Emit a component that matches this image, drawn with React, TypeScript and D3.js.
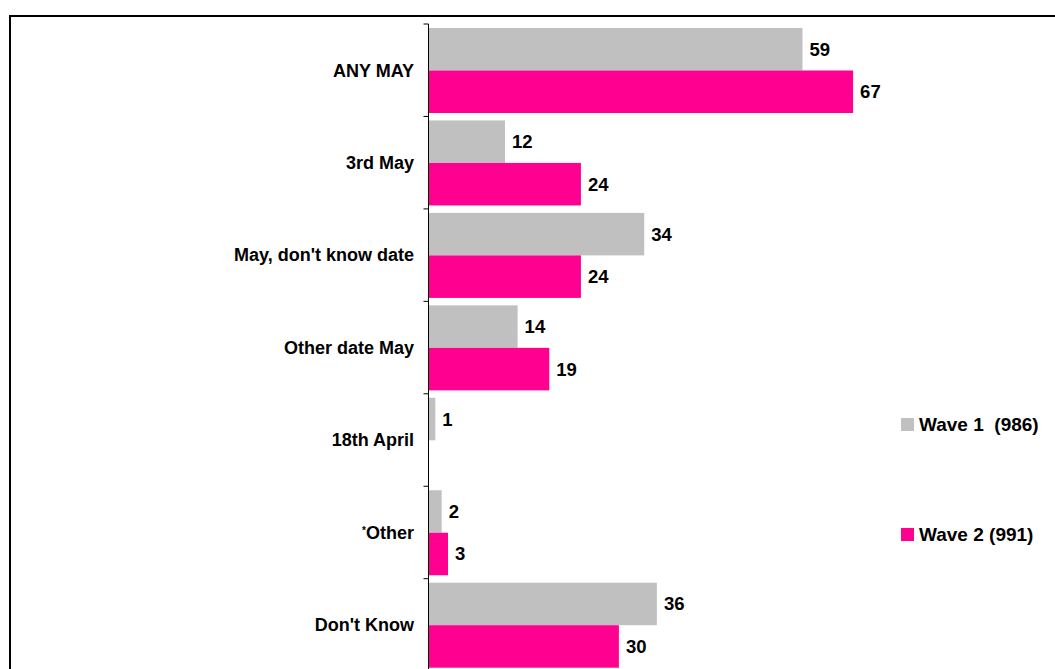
import React from "react";
import * as d3 from "d3";

const categories = ["ANY MAY", "3rd May", "May, don't know date", "Other date May", "18th April", "*Other", "Don't Know"];
const seriesNames = ["Wave 1  (986)", "Wave 2 (991)"];
const wave1: (number | null)[] = [59, 12, 34, 14, 1, 2, 36];
const wave2: (number | null)[] = [67, 24, 24, 19, null, 3, 30];
const seriesValues = [wave1, wave2];
const colors = ["#C0C0C0", "#FF0090"];

const W = 1055;
const H = 669;
const FONT = "Arial, 'Liberation Sans', Helvetica, sans-serif";

export default function App() {
  const axisX = 428.5;
  const top = 24;
  const step = 92.45;
  const y = d3.scaleBand<string>().domain(categories).range([top, top + step * categories.length]).padding(0);
  const inner = d3.scaleBand<string>().domain(["0", "1"]).range([4, 89]).padding(0);
  const x = d3.scaleLinear().domain([0, 100]).range([429, 1062]);

  return (
    <svg width={W} height={H} style={{ position: "absolute", left: 0, top: 0, background: "#fff" }} fontFamily={FONT}>
      <rect x={10} y={16} width={W + 20} height={H + 20} fill="none" stroke="#000" strokeWidth={2} />
      {categories.map((c, i) => {
        const y0 = y(c)!;
        const cy = y0 + y.bandwidth() / 2 + 6.3;
        return (
          <g key={c}>
            {seriesValues.map((vals, s) => {
              const v = vals[i];
              if (v === null) return null;
              const by = y0 + inner(String(s))!;
              const bh = inner.bandwidth();
              return (
                <g key={s}>
                  <rect x={x(0)} y={by} width={x(v) - x(0)} height={bh} fill={colors[s]} />
                  <text x={x(v) + 7} y={by + bh / 2} dy="0.35em" fontSize={18.5} fontWeight="bold" fill="#000">
                    {v}
                  </text>
                </g>
              );
            })}
            <text x={414} y={cy} textAnchor="end" fontSize={18} fontWeight="bold" fill="#000">
              {c.startsWith("*") ? (
                <>
                  <tspan fontSize={10} dy={-5}>*</tspan>
                  <tspan dy={5}>{c.slice(1)}</tspan>
                </>
              ) : (
                c
              )}
            </text>
          </g>
        );
      })}
      <line x1={axisX} x2={axisX} y1={top} y2={H + 10} stroke="#000" strokeWidth={1} />
      {d3.range(categories.length + 1).map((i) => (
        <line key={i} x1={axisX - 5} x2={axisX} y1={top + i * step} y2={top + i * step} stroke="#000" strokeWidth={1} />
      ))}
      {seriesNames.map((n, s) => {
        const ly = [418, 528][s];
        return (
          <g key={n}>
            <rect x={901} y={ly} width={13} height={13} fill={colors[s]} />
            <text x={919} y={ly + 13} fontSize={19} fontWeight="bold" fill="#000" style={{ whiteSpace: "pre" }}>
              {n}
            </text>
          </g>
        );
      })}
    </svg>
  );
}
